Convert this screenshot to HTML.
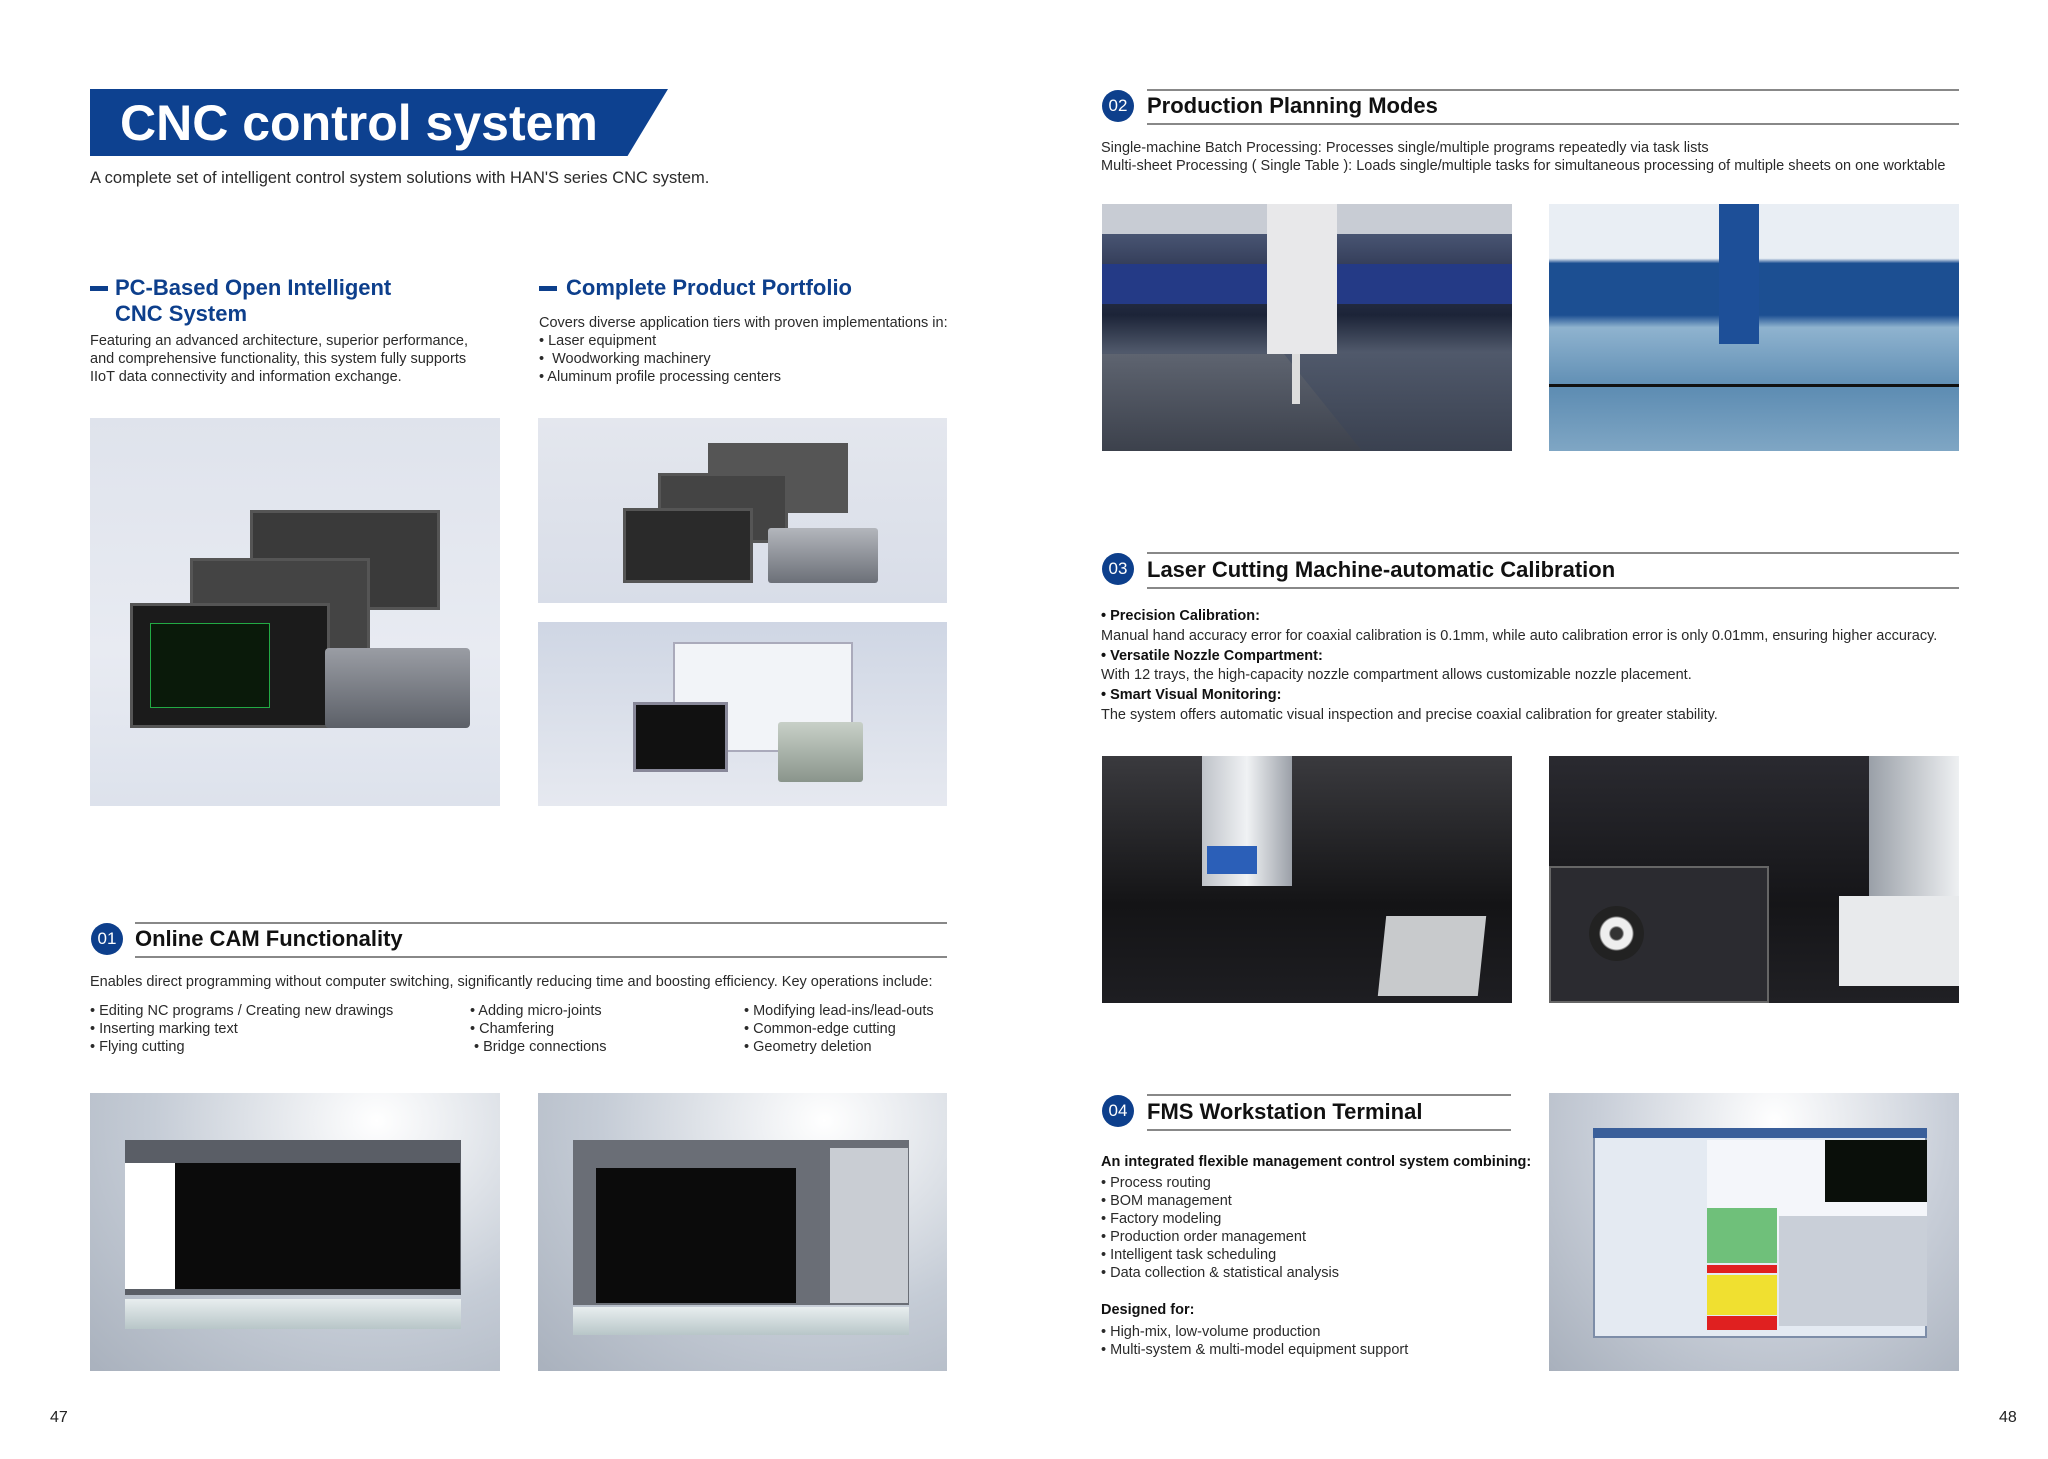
<!DOCTYPE html>
<html><head><meta charset="utf-8"><style>
*{margin:0;padding:0;box-sizing:border-box}
body{width:2048px;height:1459px;background:#fff;position:relative;overflow:hidden;font-family:"Liberation Sans",sans-serif;color:#222}
.a{position:absolute;white-space:nowrap}
.t{font-size:14.5px;line-height:18px;color:#2a2a2a}
.h{font-weight:bold;color:#0d3f8c;font-size:22px;line-height:26px}
.sh{font-weight:bold;color:#111;font-size:22px}
.circ{position:absolute;width:32px;height:32px;border-radius:50%;background:#0d3f8c;color:#fff;font-size:17px;text-align:center;line-height:32px}
.ln{position:absolute;height:2px;background:#888}
.img{position:absolute;overflow:hidden}
.scr{position:absolute;background:#222;border:3px solid #555}
</style></head><body>

<!-- Banner -->
<div class="a" style="left:90px;top:89px;width:578px;height:67px;background:#0d4190;clip-path:polygon(0 0,100% 0,93% 100%,0 100%)"></div>
<div class="a" style="left:120px;top:93px;font-size:50px;font-weight:bold;color:#fff;line-height:60px">CNC control system</div>
<div class="a t" style="left:90px;top:169px;font-size:16.5px">A complete set of intelligent control system solutions with HAN'S series CNC system.</div>

<!-- headings -->
<div class="a" style="left:90px;top:286px;width:18px;height:5px;background:#0d3f8c"></div>
<div class="a h" style="left:115px;top:275px">PC-Based Open Intelligent<br>CNC System</div>
<div class="a t" style="left:90px;top:332px">Featuring an advanced architecture, superior performance,<br>and comprehensive functionality, this system fully supports<br>IIoT data connectivity and information exchange.</div>
<div class="a" style="left:539px;top:286px;width:18px;height:5px;background:#0d3f8c"></div>
<div class="a h" style="left:566px;top:275px">Complete Product Portfolio</div>
<div class="a t" style="left:539px;top:314px">Covers diverse application tiers with proven implementations in:<br>• Laser equipment<br>•&nbsp; Woodworking machinery<br>• Aluminum profile processing centers</div>

<!-- left big image -->
<div class="img" style="left:90px;top:418px;width:410px;height:388px;background:linear-gradient(180deg,#dfe3ec,#e8ebf2 60%,#dde2ec)">
  <div class="scr" style="left:160px;top:92px;width:190px;height:100px;background:#3a3a3a"></div>
  <div class="scr" style="left:100px;top:140px;width:180px;height:100px;background:#444"></div>
  <div class="scr" style="left:40px;top:185px;width:200px;height:125px;background:#1b1b1b"></div>
  <div class="a" style="left:60px;top:205px;width:120px;height:85px;background:#0a1a0a;border:1px solid #2a4"></div>
  <div class="a" style="left:235px;top:230px;width:145px;height:80px;background:linear-gradient(#9a9da4,#5c6068);border-radius:4px"></div>
</div>
<div class="img" style="left:538px;top:418px;width:409px;height:185px;background:linear-gradient(180deg,#e4e7ee,#d8dde8)">
  <div class="scr" style="left:170px;top:25px;width:140px;height:70px;background:#555"></div>
  <div class="scr" style="left:120px;top:55px;width:130px;height:70px;background:#444"></div>
  <div class="scr" style="left:85px;top:90px;width:130px;height:75px;background:#2a2a2a"></div>
  <div class="a" style="left:230px;top:110px;width:110px;height:55px;background:linear-gradient(#b3b6bc,#6c7078);border-radius:3px"></div>
</div>
<div class="img" style="left:538px;top:622px;width:409px;height:184px;background:linear-gradient(180deg,#cfd6e4,#e6e9f0)">
  <div class="a" style="left:135px;top:20px;width:180px;height:110px;background:#f2f4f8;border:2px solid #aab"></div>
  <div class="a" style="left:95px;top:80px;width:95px;height:70px;background:#111;border:3px solid #889"></div>
  <div class="a" style="left:240px;top:100px;width:85px;height:60px;background:linear-gradient(#c8d0c8,#8a958c);border-radius:3px"></div>
</div>

<!-- 01 -->
<div class="circ" style="left:91px;top:923px">01</div>
<div class="ln" style="left:135px;top:922px;width:812px"></div>
<div class="ln" style="left:135px;top:956px;width:812px"></div>
<div class="a sh" style="left:135px;top:926px">Online CAM Functionality</div>
<div class="a t" style="left:90px;top:973px">Enables direct programming without computer switching, significantly reducing time and boosting efficiency. Key operations include:</div>
<div class="a t" style="left:90px;top:1002px">• Editing NC programs / Creating new drawings<br>• Inserting marking text<br>• Flying cutting</div>
<div class="a t" style="left:470px;top:1002px">• Adding micro-joints<br>• Chamfering<br>&nbsp;• Bridge connections</div>
<div class="a t" style="left:744px;top:1002px">• Modifying lead-ins/lead-outs<br>• Common-edge cutting<br>• Geometry deletion</div>

<div class="img" style="left:90px;top:1093px;width:410px;height:278px;background:radial-gradient(ellipse at 70% 10%,#fff,#c5ccd6 55%,#a9b1bd)">
  <div class="a" style="left:35px;top:47px;width:336px;height:155px;background:#5a5e66"></div>
  <div class="a" style="left:70px;top:70px;width:300px;height:126px;background:#0b0b0b"></div>
  <div class="a" style="left:35px;top:70px;width:50px;height:126px;background:#fff"></div>
  <div class="a" style="left:35px;top:206px;width:336px;height:30px;background:linear-gradient(#e8eeef,#b8c6c8)"></div>
</div>
<div class="img" style="left:538px;top:1093px;width:409px;height:278px;background:radial-gradient(ellipse at 70% 10%,#fff,#c5ccd6 55%,#a9b1bd)">
  <div class="a" style="left:35px;top:47px;width:336px;height:165px;background:#6a6e76"></div>
  <div class="a" style="left:58px;top:75px;width:200px;height:135px;background:#0b0b0b"></div>
  <div class="a" style="left:292px;top:55px;width:78px;height:155px;background:#c9cdd3"></div>
  <div class="a" style="left:35px;top:214px;width:336px;height:28px;background:linear-gradient(#e8eeef,#b8c6c8)"></div>
</div>

<!-- 02 -->
<div class="circ" style="left:1102px;top:90px">02</div>
<div class="ln" style="left:1147px;top:89px;width:812px"></div>
<div class="ln" style="left:1147px;top:123px;width:812px"></div>
<div class="a sh" style="left:1147px;top:93px">Production Planning Modes</div>
<div class="a t" style="left:1101px;top:139px">Single-machine Batch Processing: Processes single/multiple programs repeatedly via task lists<br>Multi-sheet Processing ( Single Table ): Loads single/multiple tasks for simultaneous processing of multiple sheets on one worktable</div>

<div class="img" style="left:1102px;top:204px;width:410px;height:247px;background:linear-gradient(180deg,#5b6a8a 0%,#2d3550 30%,#1c2438 45%,#50596b 60%,#3a4150 100%)">
  <div class="a" style="left:0;top:0;width:410px;height:30px;background:#c8ccd4"></div>
  <div class="a" style="left:0;top:60px;width:410px;height:40px;background:#243a86"></div>
  <div class="a" style="left:165px;top:0;width:70px;height:150px;background:#e8e8ea"></div>
  <div class="a" style="left:0;top:150px;width:260px;height:97px;background:linear-gradient(#5e6470,#3c414c);clip-path:polygon(0 0,70% 0,100% 100%,0 100%)"></div>
  <div class="a" style="left:190px;top:150px;width:8px;height:50px;background:#ddd"></div>
</div>
<div class="img" style="left:1549px;top:204px;width:410px;height:247px;background:linear-gradient(180deg,#e9eef4 0%,#e9eef4 22%,#1c4f92 24%,#1c4f92 45%,#8fb3cf 50%,#5e8db3 75%,#7fa6c4 100%)">
  <div class="a" style="left:170px;top:0;width:40px;height:140px;background:#1d4f98"></div>
  <div class="a" style="left:0;top:180px;width:410px;height:3px;background:#111"></div>
</div>

<!-- 03 -->
<div class="circ" style="left:1102px;top:553px">03</div>
<div class="ln" style="left:1147px;top:552px;width:812px"></div>
<div class="ln" style="left:1147px;top:587px;width:812px"></div>
<div class="a sh" style="left:1147px;top:557px">Laser Cutting Machine-automatic Calibration</div>
<div class="a t" style="left:1101px;top:607px;line-height:19.8px"><b style="color:#111">• Precision Calibration:</b><br>Manual hand accuracy error for coaxial calibration is 0.1mm, while auto calibration error is only 0.01mm, ensuring higher accuracy.<br><b style="color:#111">• Versatile Nozzle Compartment:</b><br>With 12 trays, the high-capacity nozzle compartment allows customizable nozzle placement.<br><b style="color:#111">• Smart Visual Monitoring:</b><br>The system offers automatic visual inspection and precise coaxial calibration for greater stability.</div>

<div class="img" style="left:1102px;top:756px;width:410px;height:247px;background:linear-gradient(180deg,#3a3a3e,#141416 60%,#1e1e22)">
  <div class="a" style="left:100px;top:0;width:90px;height:130px;background:linear-gradient(90deg,#bfc3c9,#f0f2f4,#9ba0a8)"></div>
  <div class="a" style="left:105px;top:90px;width:50px;height:28px;background:#2b5fb8"></div>
  <div class="a" style="left:280px;top:160px;width:100px;height:80px;background:#c8cacc;transform:skewX(-6deg)"></div>
</div>
<div class="img" style="left:1549px;top:756px;width:410px;height:247px;background:linear-gradient(180deg,#2a2a30,#151518 60%,#202024)">
  <div class="a" style="left:0;top:110px;width:220px;height:137px;background:#2b2b30;border:2px solid #666"></div>
  <div class="a" style="left:40px;top:150px;width:55px;height:55px;border-radius:50%;background:radial-gradient(#333 15%,#eee 20%,#eee 40%,#222 45%)"></div>
  <div class="a" style="left:320px;top:0;width:90px;height:150px;background:linear-gradient(90deg,#9aa0a8,#eef0f2)"></div>
  <div class="a" style="left:290px;top:140px;width:120px;height:90px;background:#e8eaec"></div>
</div>

<!-- 04 -->
<div class="circ" style="left:1102px;top:1095px">04</div>
<div class="ln" style="left:1147px;top:1094px;width:364px"></div>
<div class="ln" style="left:1147px;top:1129px;width:364px"></div>
<div class="a sh" style="left:1147px;top:1099px">FMS Workstation Terminal</div>
<div class="a t" style="left:1101px;top:1153px"><b style="color:#111">An integrated flexible management control system combining:</b></div>
<div class="a t" style="left:1101px;top:1174px">• Process routing<br>• BOM management<br>• Factory modeling<br>• Production order management<br>• Intelligent task scheduling<br>• Data collection &amp; statistical analysis</div>
<div class="a t" style="left:1101px;top:1301px"><b style="color:#111">Designed for:</b></div>
<div class="a t" style="left:1101px;top:1323px">• High-mix, low-volume production<br>• Multi-system &amp; multi-model equipment support</div>

<div class="img" style="left:1549px;top:1093px;width:410px;height:278px;background:radial-gradient(ellipse at 55% 10%,#fff,#c8ced8 55%,#a8b0bc)">
  <div class="a" style="left:44px;top:35px;width:334px;height:210px;background:#e4eaf2;border:2px solid #7d8da8"></div>
  <div class="a" style="left:44px;top:35px;width:334px;height:10px;background:#3a5f9a"></div>
  <div class="a" style="left:158px;top:47px;width:220px;height:110px;background:#f4f6fa"></div>
  <div class="a" style="left:276px;top:47px;width:102px;height:62px;background:#0a0f0a"></div>
  <div class="a" style="left:158px;top:115px;width:70px;height:55px;background:#6fc07a"></div>
  <div class="a" style="left:158px;top:172px;width:70px;height:8px;background:#e02020"></div>
  <div class="a" style="left:158px;top:182px;width:70px;height:40px;background:#f0e030"></div>
  <div class="a" style="left:158px;top:223px;width:70px;height:14px;background:#e02020"></div>
  <div class="a" style="left:230px;top:123px;width:148px;height:110px;background:#c9cfd8"></div>
</div>

<div class="a" style="left:50px;top:1409px;font-size:16px">47</div>
<div class="a" style="left:1999px;top:1409px;font-size:16px">48</div>
</body></html>
